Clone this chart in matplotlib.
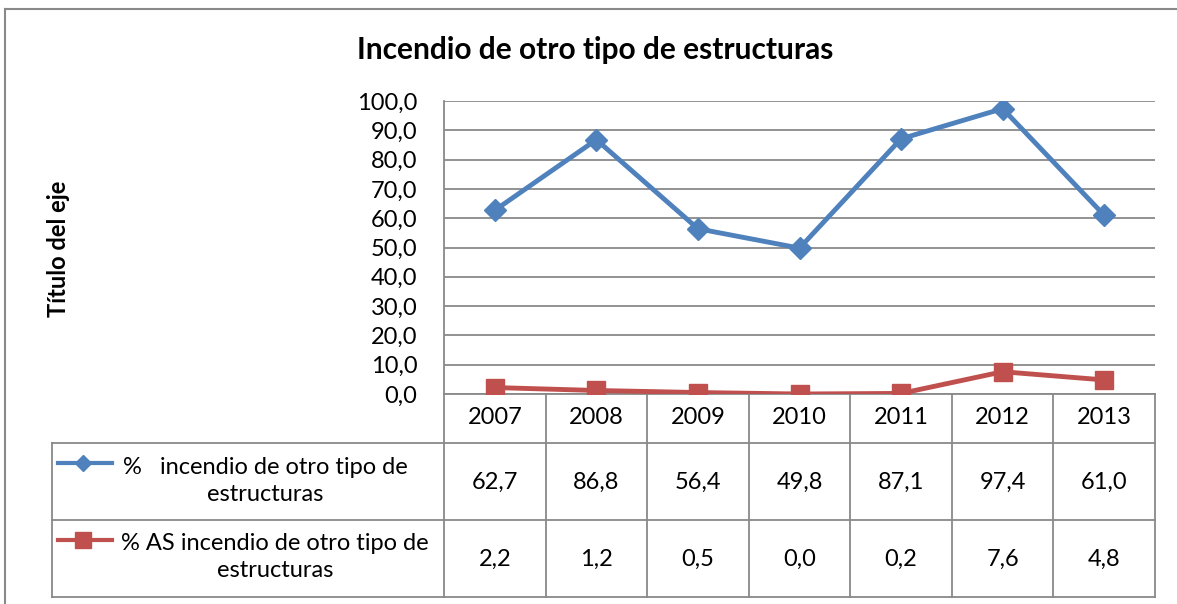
import matplotlib
matplotlib.use("Agg")
import matplotlib.pyplot as plt
from matplotlib.transforms import blended_transform_factory

# data
years = ["2007", "2008", "2009", "2010", "2011", "2012", "2013"]
pct_incendio = [62.7, 86.8, 56.4, 49.8, 87.1, 97.4, 61.0]
pct_as_incendio = [2.2, 1.2, 0.5, 0.0, 0.2, 7.6, 4.8]
label_incendio = "%   incendio de otro tipo de\nestructuras"
label_as = "% AS incendio de otro tipo de\nestructuras"
title = "Incendio de otro tipo de estructuras"
ylabel = "Título del eje"
yticks = [0, 10, 20, 30, 40, 50, 60, 70, 80, 90, 100]

W, H = 1177, 604
BLUE = "#4F81BD"
RED = "#C0504D"
GRID = "#898989"
FS = 17

plt.rcParams['font.family'] = ['Lato', 'DejaVu Sans']


def fx(px):
    return px / W


def fy(py):
    return 1 - py / H


def fmt(v):
    return f"{v:.1f}".replace(".", ",")


fig = plt.figure(figsize=(W / 100, H / 100), dpi=100)

# outer chart border (left and top visible)
fig.add_artist(plt.Line2D([fx(5), fx(5)], [fy(9), fy(604)], color=GRID, lw=1.5))
fig.add_artist(plt.Line2D([fx(5), fx(1177)], [fy(9), fy(9)], color=GRID, lw=1.5))

left, right, top, bottom = 444, 1155, 101, 394
ax = fig.add_axes([fx(left), fy(bottom), fx(right - left), (bottom - top) / H])

x = list(range(len(years)))
ax.plot(x, pct_incendio, color=BLUE, lw=3.5, marker="D", ms=11, zorder=3)
ax.plot(x, pct_as_incendio, color=RED, lw=3.5, marker="s", ms=13, zorder=3)

ax.set_xlim(-0.5, len(years) - 0.5)
ax.set_ylim(0, 100)
ax.set_yticks(yticks)
ax.set_yticklabels([fmt(v) for v in yticks], fontsize=FS)
ax.tick_params(axis="y", length=0, pad=19)
ax.set_xticks([])
ax.grid(axis="y", color=GRID, lw=1.3)
ax.set_axisbelow(True)
for s in ["top", "right"]:
    ax.spines[s].set_visible(False)
for s in ["left", "bottom"]:
    ax.spines[s].set_color(GRID)
    ax.spines[s].set_linewidth(1.3)

fig.text(fx(595), fy(50), title, ha="center", va="center", fontsize=21.5, fontweight="bold")
fig.text(fx(58), fy(249), ylabel, ha="center", va="center", rotation=90, fontsize=17, fontweight="bold")

# data table below the axes
tr = blended_transform_factory(ax.transData, fig.transFigure)
tbl_left = 52
for py in [443, 520, 597]:
    fig.add_artist(plt.Line2D([fx(tbl_left), fx(right)], [fy(py), fy(py)], color=GRID, lw=1.3))
fig.add_artist(plt.Line2D([fx(tbl_left), fx(tbl_left)], [fy(443), fy(597)], color=GRID, lw=1.3))
for i in range(len(years) + 1):
    ax.plot([i - 0.5, i - 0.5], [fy(394), fy(597)], color=GRID, lw=1.3,
            transform=tr, clip_on=False)

for i, yr in enumerate(years):
    ax.text(i, fy(418), yr, transform=tr, ha="center", va="center", fontsize=FS)
    ax.text(i, fy(482), fmt(pct_incendio[i]), transform=tr, ha="center", va="center", fontsize=FS)
    ax.text(i, fy(559), fmt(pct_as_incendio[i]), transform=tr, ha="center", va="center", fontsize=FS)

# legend keys inside the table
fig.add_artist(plt.Line2D([fx(58), fx(112)], [fy(463), fy(463)], color=BLUE, lw=3))
fig.add_artist(plt.Line2D([fx(83)], [fy(463)], color=BLUE, marker="D", ms=8))
fig.add_artist(plt.Line2D([fx(58), fx(112)], [fy(540), fy(540)], color=RED, lw=3))
fig.add_artist(plt.Line2D([fx(83)], [fy(540)], color=RED, marker="s", ms=11))
fig.text(fx(265), fy(481), label_incendio, ha="center", va="center", fontsize=FS,
         multialignment="center", linespacing=1.3)
fig.text(fx(275), fy(557), label_as, ha="center", va="center", fontsize=FS,
         multialignment="center", linespacing=1.3)

fig.savefig("out.png", dpi=100)
